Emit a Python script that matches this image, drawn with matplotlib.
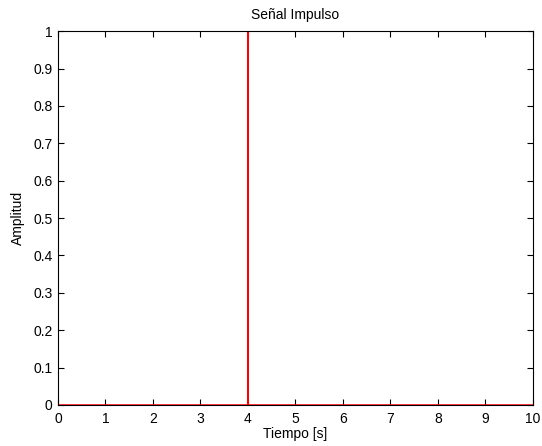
import matplotlib
matplotlib.use('Agg')
import matplotlib.pyplot as plt
import numpy as np

# Datos de la señal impulso
tiempo = [0, 4, 4, 4, 10]
amplitud = [0, 0, 1, 0, 0]
x_ticks = [0, 1, 2, 3, 4, 5, 6, 7, 8, 9, 10]
y_ticks = [0, 0.1, 0.2, 0.3, 0.4, 0.5, 0.6, 0.7, 0.8, 0.9, 1]
y_labels = ['0', '0.1', '0.2', '0.3', '0.4', '0.5', '0.6', '0.7', '0.8', '0.9', '1']

plt.rcParams['font.family'] = ['Liberation Sans', 'DejaVu Sans']
plt.rcParams['font.size'] = 10

fig = plt.figure(figsize=(5.42, 4.46), dpi=100)
ax = fig.add_axes([0.107, 0.092, 0.876, 0.838])

ax.plot(tiempo, amplitud, color='#ff0000', linewidth=1.1)

ax.set_xlim(0, 10)
ax.set_ylim(0, 1)
ax.set_xticks(x_ticks)
ax.set_yticks(y_ticks)
ax.set_yticklabels(y_labels)
ax.tick_params(direction='in', top=True, right=True, length=4, width=0.8)
ax.tick_params(axis='x', pad=5)
ax.tick_params(axis='y', pad=4)
for s in ax.spines.values():
    s.set_linewidth(0.8)

ax.set_title('Señal Impulso', fontsize=10, pad=9)
ax.set_xlabel('Tiempo [s]', labelpad=1)
ax.set_ylabel('Amplitud', labelpad=6)

fig.savefig('out.png', dpi=100)
